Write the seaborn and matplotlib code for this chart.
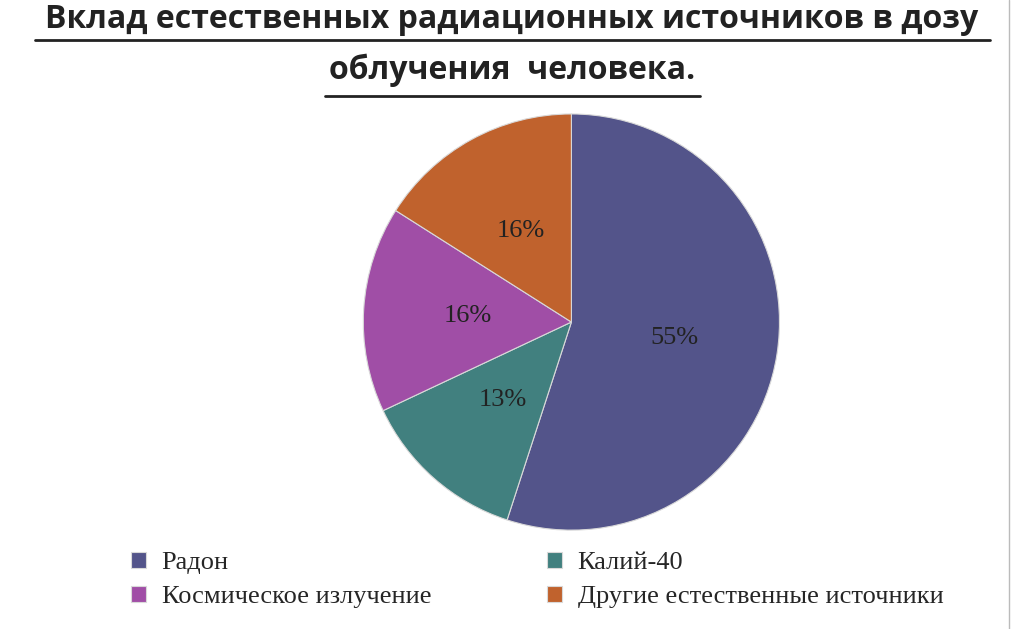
import matplotlib.pyplot as plt
import seaborn as sns

# values
labels = ['Радон', 'Калий-40', 'Космическое излучение', 'Другие естественные источники']
shares = [55, 13, 16, 16]
colors = ['#53548A', '#41807F', '#A04EA6', '#C0622D']

sns.set_style('white')
plt.rcParams['font.family'] = ['Liberation Serif', 'DejaVu Serif']

fig = plt.figure(figsize=(10.24, 6.29), dpi=100)
ax = fig.add_axes([0.304, 0.074, 0.508, 0.828])

wedges, texts, autotexts = ax.pie(
    shares, colors=colors, startangle=90, counterclock=False,
    autopct='%d%%', pctdistance=0.5,
    wedgeprops=dict(edgecolor='#d9d9d9', linewidth=0.8),
    textprops=dict(fontsize=19, color='#222222'))
ax.set_aspect('equal')

title_font = ['Open Sans', 'DejaVu Sans']
fig.text(0.5, 0.995, 'Вклад естественных радиационных источников в дозу',
         ha='center', va='top', fontsize=23, fontweight='bold',
         family=title_font, color='#222222')
fig.text(0.5, 0.915, 'облучения  человека.',
         ha='center', va='top', fontsize=23, fontweight='bold',
         family=title_font, color='#222222')
# underlines for title
fig.add_artist(plt.Line2D([0.034, 0.967], [0.937, 0.937], color='#222222', lw=2))
fig.add_artist(plt.Line2D([0.317, 0.684], [0.847, 0.847], color='#222222', lw=2))

# legend in two columns, filled row by row
order = [0, 2, 1, 3]
fig.legend([wedges[i] for i in order], [labels[i] for i in order],
           loc='lower left', bbox_to_anchor=(0.105, -0.005), ncol=2,
           frameon=False, fontsize=19, handlelength=0.55, handleheight=0.55,
           columnspacing=4.4, labelspacing=0.45, handletextpad=0.6)

fig.add_artist(plt.Line2D([0.985, 0.985], [0.0, 1.0], color='#bbbbbb', lw=1))

fig.savefig('out.png', dpi=100)
